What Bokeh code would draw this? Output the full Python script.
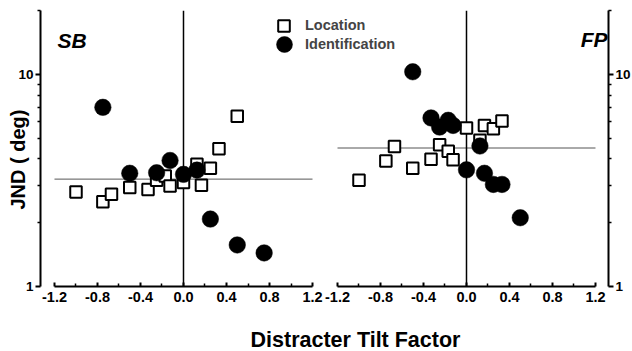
import numpy as np
from bokeh.plotting import figure
from bokeh.models import (Range1d, LinearAxis, LogAxis, FixedTicker, Label, Legend,
                          LegendItem, PrintfTickFormatter)
from bokeh.embed import file_html
from bokeh.resources import INLINE

# ---- data ----
sb_loc_x = [-1.0, -0.75, -0.67, -0.5, -0.33, -0.25, -0.17, -0.125, 0.0, 0.125, 0.167, 0.25, 0.33, 0.5]
sb_loc_y = [2.79, 2.51, 2.72, 2.93, 2.87, 3.17, 3.32, 2.98, 3.09, 3.77, 3.0, 3.61, 4.46, 6.35]
sb_id_x = [-0.75, -0.5, -0.25, -0.125, 0.0, 0.125, 0.25, 0.5, 0.75]
sb_id_y = [7.0, 3.42, 3.44, 3.93, 3.38, 3.54, 2.08, 1.57, 1.44]
sb_ref = 3.21

fp_loc_x = [-1.0, -0.75, -0.67, -0.5, -0.33, -0.25, -0.17, -0.125, 0.0, 0.125, 0.167, 0.25, 0.33]
fp_loc_y = [3.17, 3.91, 4.57, 3.61, 3.98, 4.66, 4.34, 3.96, 5.59, 4.9, 5.75, 5.55, 6.03]
fp_id_x = [-0.5, -0.33, -0.25, -0.17, -0.125, 0.0, 0.125, 0.167, 0.25, 0.33, 0.5]
fp_id_y = [10.3, 6.24, 5.65, 6.08, 5.75, 3.55, 4.6, 3.42, 3.03, 3.03, 2.11]
fp_ref = 4.5

x_ticks = [-1.2, -0.8, -0.4, 0.0, 0.4, 0.8, 1.2]
x_minor = [-1.0, -0.6, -0.2, 0.2, 0.6, 1.0]
x_lim = (-1.2, 1.2)
y_ticks = [1, 10]
y_minor = [2, 3, 4, 5, 6, 7, 8, 9, 20]
y_lim = (1, 20)

FONT = "Liberation Sans"

# The frame covers the whole canvas; axes are drawn at fixed locations inside it.
p = figure(width=632, height=351, y_axis_type="log", x_axis_location=None,
           x_range=Range1d(-1.7023, 4.1767), y_range=Range1d(0.4935, 22.34),
           output_backend="svg", toolbar_location=None,
           min_border_left=0, min_border_right=0, min_border_top=0, min_border_bottom=0)
p.extra_x_ranges = {"fp": Range1d(-4.3349, 1.5442)}
p.outline_line_color = None
p.grid.visible = False
p.background_fill_color = "white"
p.border_fill_color = "white"


def style_axis(ax, size):
    ax.axis_line_width = 2
    ax.axis_line_color = "black"
    ax.major_tick_line_width = 2
    ax.minor_tick_line_width = 1.5
    ax.major_label_text_font = FONT
    ax.major_label_text_font_style = "bold"
    ax.major_label_text_font_size = size
    ax.major_label_text_color = "black"


def style_yaxis(ax):
    style_axis(ax, "13.5px")
    ax.bounds = y_lim
    ax.major_tick_out = 5
    ax.major_tick_in = 0
    ax.minor_tick_out = 3
    ax.minor_tick_in = 0
    ax.major_label_standoff = 2


# y axes
ly = p.yaxis[0]
ly.ticker = FixedTicker(ticks=y_ticks, minor_ticks=y_minor)
ly.formatter = PrintfTickFormatter(format="%d")
ly.fixed_location = -1.3302
style_yaxis(ly)

ry = LogAxis(ticker=FixedTicker(ticks=y_ticks, minor_ticks=y_minor),
             formatter=PrintfTickFormatter(format="%d"), fixed_location=3.9535)
style_yaxis(ry)
p.add_layout(ry, "right")

# x axes (fixed at y = 1)
for rname in ("default", "fp"):
    ax = LinearAxis(x_range_name=rname, ticker=FixedTicker(ticks=x_ticks, minor_ticks=x_minor),
                    formatter=PrintfTickFormatter(format="%.1f"), bounds=x_lim,
                    fixed_location=y_lim[0])
    style_axis(ax, "14.5px")
    ax.major_tick_in = 4
    ax.major_tick_out = 0
    ax.minor_tick_in = 3
    ax.minor_tick_out = 0
    ax.major_label_standoff = 6
    p.add_layout(ax, "below")

# reference lines
for rname, ref in (("default", sb_ref), ("fp", fp_ref)):
    p.segment(x0=[x_lim[0]], y0=[ref], x1=[x_lim[1]], y1=[ref], x_range_name=rname,
              line_color="#555555", line_width=1)
    p.segment(x0=[0], y0=[y_lim[0]], x1=[0], y1=[y_lim[1]], x_range_name=rname,
              line_color="black", line_width=1.5)

# markers
sq_kw = dict(marker="square", size=11.5, fill_color="white", line_color="black", line_width=2)
ci_kw = dict(marker="circle", size=16.5, fill_color="black", line_color="black", line_width=0.5)
r_sq = p.scatter(sb_loc_x, sb_loc_y, **sq_kw)
p.scatter(fp_loc_x, fp_loc_y, x_range_name="fp", **sq_kw)
r_ci = p.scatter(sb_id_x, sb_id_y, **ci_kw)
p.scatter(fp_id_x, fp_id_y, x_range_name="fp", **ci_kw)

# legends
leg_kw = dict(padding=0, margin=0, border_line_color=None, background_fill_alpha=0,
              label_text_font=FONT, label_text_font_style="bold", label_text_font_size="14.5px")
leg1 = Legend(items=[LegendItem(label="Location", renderers=[r_sq])], location=(269, 311.5),
              glyph_width=29, glyph_height=29, label_standoff=7, **leg_kw)
leg2 = Legend(items=[LegendItem(label="Identification", renderers=[r_ci])], location=(264, 287),
              glyph_width=40, glyph_height=40, label_standoff=1, **leg_kw)
p.add_layout(leg1)
p.add_layout(leg2)

# texts
lab_kw = dict(x_units="screen", y_units="screen", text_font=FONT, text_color="black")
p.add_layout(Label(x=57, y=311, text="SB", text_font_style="bold italic", text_font_size="21px",
                   text_align="left", text_baseline="alphabetic", **lab_kw))
p.add_layout(Label(x=607, y=312, text="FP", text_font_style="bold italic", text_font_size="21px",
                   text_align="right", text_baseline="alphabetic", **lab_kw))
p.add_layout(Label(x=17, y=192, text="JND ( deg)", angle=np.pi / 2, text_font_style="bold",
                   text_font_size="20px", text_align="center", text_baseline="alphabetic", **lab_kw))
p.add_layout(Label(x=355, y=12, text="Distracter Tilt Factor", text_font_style="bold",
                   text_font_size="21.5px", text_align="center", text_baseline="alphabetic", **lab_kw))

open("out.html", "w").write(file_html(p, INLINE))
